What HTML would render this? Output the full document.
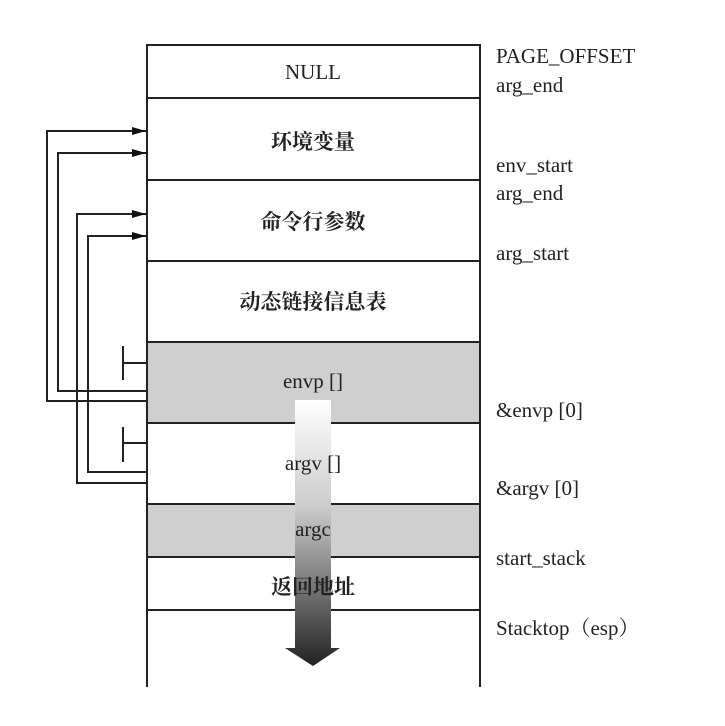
<!DOCTYPE html>
<html><head><meta charset="utf-8"><style>
body{margin:0;background:#fff}
svg text{font-family:"Liberation Serif","Noto Serif CJK SC",serif;font-size:21px;fill:#222}
svg text.c{font-weight:bold;font-size:21px}
</style></head><body>
<svg width="725" height="721" viewBox="0 0 725 721" xmlns="http://www.w3.org/2000/svg">
<defs>
<linearGradient id="g" x1="0" y1="0" x2="0" y2="1">
<stop offset="0" stop-color="#fff"/><stop offset="0.4" stop-color="#ccc"/><stop offset="1" stop-color="#222"/>
</linearGradient>
<marker id="a" markerWidth="14" markerHeight="8" refX="14" refY="4" orient="auto" markerUnits="userSpaceOnUse">
<path d="M0,0 L14,4 L0,8 Z" fill="#111"/></marker>
</defs>
<rect x="147" y="342" width="333" height="81" fill="#cfcfcf"/>
<rect x="147" y="504" width="333" height="53" fill="#cfcfcf"/>
<g stroke="#222" stroke-width="2" fill="none">
<path d="M147,687 V45 H480 V687"/>
<path d="M147,98H480 M147,180H480 M147,261H480 M147,342H480 M147,423H480 M147,504H480 M147,557H480 M147,610H480"/>
<path d="M147,401 H47 V131 H146" marker-end="url(#a)"/>
<path d="M147,391 H58 V153 H146" marker-end="url(#a)"/>
<path d="M147,483 H77 V214 H146" marker-end="url(#a)"/>
<path d="M147,472 H88 V236 H146" marker-end="url(#a)"/>
<path d="M123,346 V380 M123,363 H147 M123,427 V462 M123,443 H147"/>
</g>
<path d="M295,400 H331 V648 H340 L313,666 L285,648 H295 Z" fill="url(#g)"/>
<g text-anchor="middle">
<text x="313" y="79">NULL</text>
<text class="c" x="313" y="149">环境变量</text>
<text class="c" x="313" y="229">命令行参数</text>
<text class="c" x="313" y="309">动态链接信息表</text>
<text x="313" y="388">envp []</text>
<text x="313" y="470">argv []</text>
<text x="313" y="536">argc</text>
<text class="c" x="313" y="594">返回地址</text>
</g>
<g>
<text x="496" y="63">PAGE_OFFSET</text>
<text x="496" y="92">arg_end</text>
<text x="496" y="172">env_start</text>
<text x="496" y="200">arg_end</text>
<text x="496" y="260">arg_start</text>
<text x="496" y="417">&amp;envp [0]</text>
<text x="496" y="495">&amp;argv [0]</text>
<text x="496" y="565">start_stack</text>
<text x="496" y="635">Stacktop（esp）</text>
</g>
</svg>
</body></html>
